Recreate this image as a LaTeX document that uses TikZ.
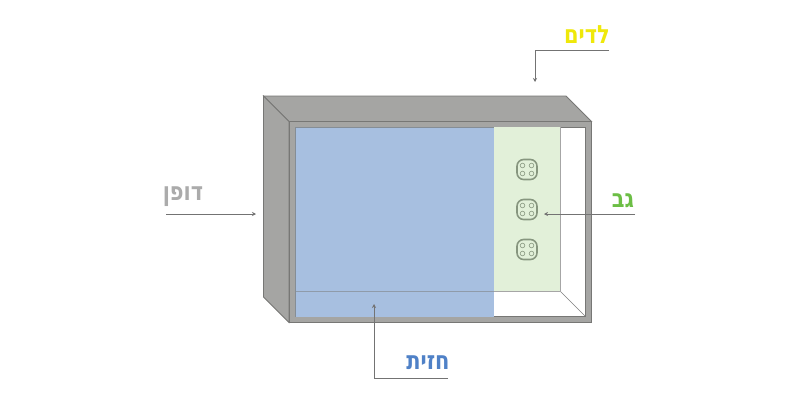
\documentclass[tikz,border=0pt]{standalone}
\usepackage{fontspec}
\usepackage{graphicx}
\setmainfont{Liberation Sans}
\TeXXeTstate=1
\newfontfamily\hebfont[Script=Hebrew]{DejaVu Sans}
\usetikzlibrary{arrows.meta,calc}
\definecolor{boxgray}{HTML}{A5A5A3}
\definecolor{edgegray}{HTML}{777775}
\definecolor{bluepanel}{HTML}{A7BFE0}
\definecolor{greenpanel}{HTML}{E2F0D9}
\definecolor{socketc}{HTML}{87967F}
\definecolor{lblyellow}{HTML}{EFE80A}
\definecolor{lblgray}{HTML}{ABABAB}
\definecolor{lblgreen}{HTML}{6CBE45}
\definecolor{lblblue}{HTML}{4F81C7}
\tikzset{
  x=0.75pt,y=-0.75pt,
  face/.style={fill=boxgray,draw=edgegray,line width=0.6pt},
  leader/.style={draw=black!55,line width=0.45pt,-{Stealth[length=3pt,width=3pt]}},
  lbl/.style={inner sep=0pt,font=\hebfont\bfseries\fontsize{16}{20}\selectfont},
  socketbody/.style={draw=socketc,line width=1.2pt,rounded corners=5pt,fill=none,minimum size=15pt,inner sep=0pt},
  hole/.style={draw=socketc,line width=0.45pt,fill=none},
}
\newcommand{\socketat}[2]{%
  \node[socketbody] (#1) at #2 {};
  \foreach \dx in {-4.5,4.5}\foreach \dy in {-4,4}
    \draw[hole] ($#2+(\dx,\dy)$) circle[radius=2.3];
}
\newcommand{\tallheb}[1]{\scalebox{0.98}[1.18]{\beginR #1\endR}}
\begin{document}
\begin{tikzpicture}
\useasboundingbox (0,0) rectangle (800,400);
\fill[white] (0,0) rectangle (800,400);
% box
\draw[face] (263.5,96) -- (566,96) -- (591.5,121.5) -- (289,121.5) -- cycle;
\draw[face] (263.5,96) -- (289,121.5) -- (289,322.5) -- (263.5,297) -- cycle;
\draw[face,even odd rule] (289,121.5) rectangle (591.5,322.5) (295,127) rectangle (585.5,316.5);
% inside
\draw[draw=black!50,line width=0.4pt] (560,291) -- (585.5,316.5);
\fill[greenpanel] (494,127) rectangle (560,291);
\draw[draw=gray!70,line width=0.7pt] (560,127) -- (560,291) -- (494,291);
\fill[bluepanel] (295,127) rectangle (494,316.5);
\draw[draw=edgegray!50!bluepanel,line width=0.7pt] (295,291) -- (494,291);
\draw[draw=edgegray!70!bluepanel,line width=0.6pt] (295,316.5) -- (295,127) -- (494,127);
% sockets
\socketat{s1}{(527,169.5)}
\socketat{s2}{(527,209.5)}
\socketat{s3}{(527,249.5)}
% labels
\node[lbl,text=lblyellow] (led) at (587,34.5) {\tallheb{לדים}};
\node[lbl,text=lblgray] (wall) at (183,196.5) {\tallheb{דופן}};
\node[lbl,text=lblgreen] (back) at (623,201) {\tallheb{גב}};
\node[lbl,text=lblblue] (front) at (428,362.5) {\tallheb{חזית}};
% connector anchors
\coordinate (ledstart) at (609,50);
\coordinate (ledbend) at (535,50);
\coordinate (ledend) at (535,82);
\coordinate (wallstart) at (166,214);
\coordinate (wallend) at (256,214);
\coordinate (backstart) at (635,214);
\coordinate (backend) at (544,214);
\coordinate (frontstart) at (448,378);
\coordinate (frontbend) at (374,378);
\coordinate (frontend) at (374,304);
\draw[leader] (ledstart) -- (ledbend) -- (ledend);
\draw[leader] (wallstart) -- (wallend);
\draw[leader] (backstart) -- (backend);
\draw[leader] (frontstart) -- (frontbend) -- (frontend);
\end{tikzpicture}
\end{document}
